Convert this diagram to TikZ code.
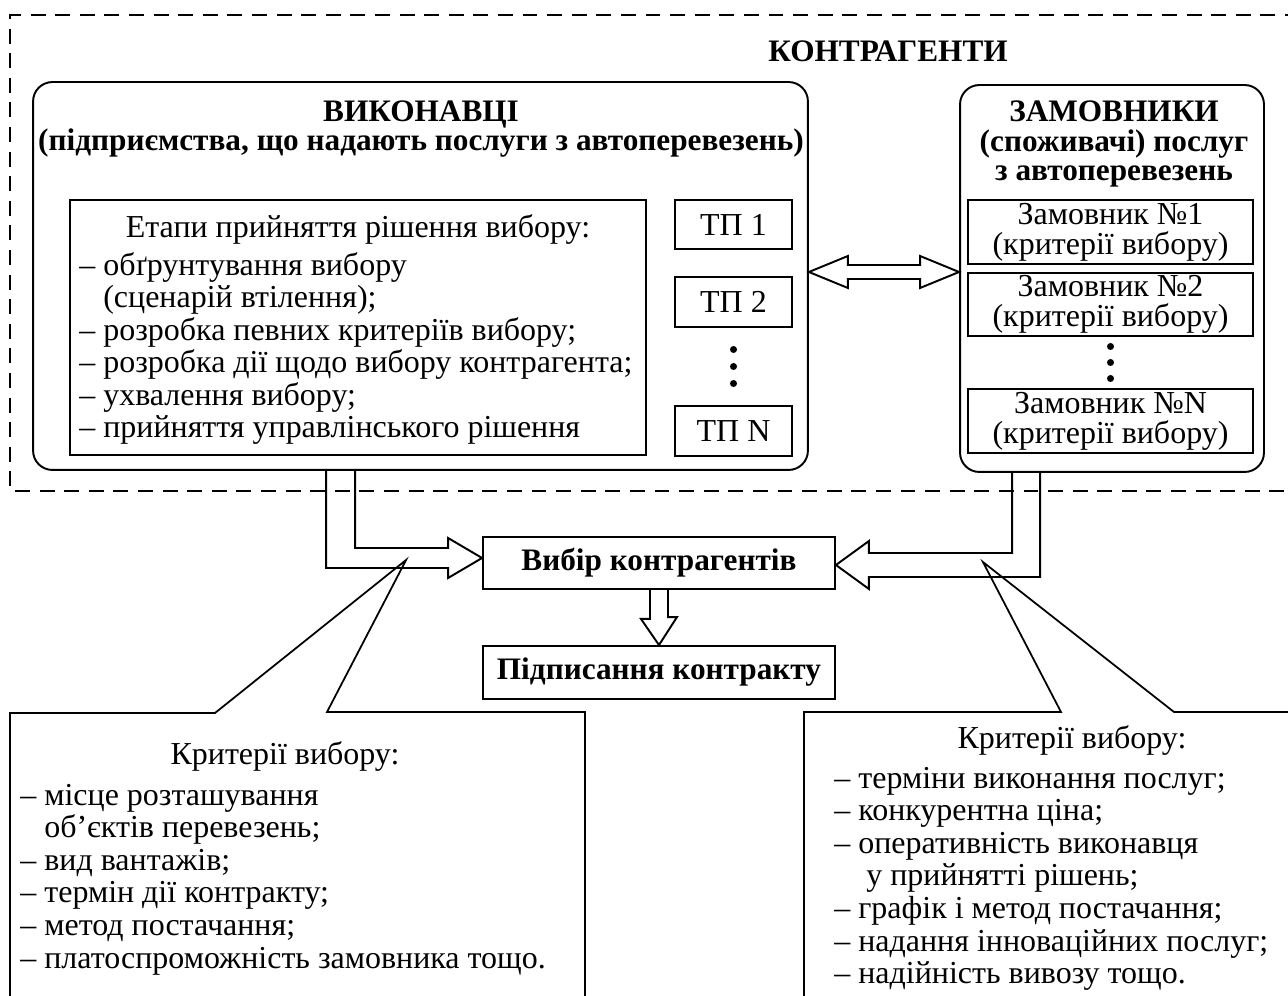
\documentclass[tikz,border=0pt]{standalone}
\usepackage{fontspec}
\setmainfont{Liberation Serif}
\usetikzlibrary{positioning, calc}

\begin{document}
\begin{tikzpicture}[
    x=0.02cm, y=-0.02cm,
    font=\fontsize{18.2}{18.5}\selectfont,
    outer/.style={dash pattern=on 8.5pt off 5.5pt, line width=1.1pt},
    group/.style={rectangle, draw, line width=1.1pt, rounded corners=11pt,
                  inner sep=0pt},
    box/.style={rectangle, draw, line width=1.1pt, inner sep=0pt,
                align=center, font=\fontsize{18.2}{17}\selectfont},
    hdr/.style={inner sep=0pt, align=center,
                font=\fontsize{17.8}{17}\selectfont\bfseries},
    txt/.style={inner sep=0pt, align=left},
    blk/.style={line width=1.1pt, line join=miter},
    clt/.style={line width=1pt},
]
\useasboundingbox (0,0) rectangle (1288,996);

% Contractors frame
\draw[outer] (1300,15) -- (10,15) -- (10,491) -- (1300,491);
\node[hdr, anchor=base] (kontr) at (888,62) {КОНТРАГЕНТИ};

% Executors
\node[group, minimum width=15.5cm, minimum height=7.76cm] (vyk) at (420.5,276) {};
\node[hdr, anchor=base] (vykhead) at (421,151)
     {ВИКОНАВЦІ\\(підприємства, що надають послуги з автоперевезень)};

\node[box, minimum width=11.52cm, minimum height=5.1cm] (etapy) at (358,327.5) {};
\node[anchor=base, inner sep=0pt] (etapyhead) at (358,238) {Етапи прийняття рішення вибору:};
\node[txt, anchor=base west] (etapylist) at (79,438)
     {– обґрунтування вибору\\\phantom{– }(сценарій втілення);\\– розробка певних критеріїв вибору;\\– розробка дії щодо вибору контрагента;\\– ухвалення вибору;\\– прийняття управлінського рішення};

\node[box, minimum width=2.34cm, minimum height=0.98cm] (tp1) at (733.5,224.5) {ТП 1};
\node[box, minimum width=2.34cm, minimum height=1cm]    (tp2) at (733.5,302)   {ТП 2};
\node[box, minimum width=2.34cm, minimum height=1cm]    (tpn) at (733.5,431)   {ТП N};
\foreach \d in {-17,0,17}
  \fill ($(tp2.south)!0.5!(tpn.north)+(0,\d)$) circle (2pt);

% Customers
\node[group, minimum width=6.08cm, minimum height=7.74cm] (zam) at (1112,278.5) {};
\node[hdr, anchor=base] (zamhead) at (1114,181)
     {ЗАМОВНИКИ\\(споживачі) послуг\\з автоперевезень};

\node[box, minimum width=5.7cm, minimum height=1.28cm] (zm1) at (1110.5,232)   {Замовник №1\\(критерії вибору)};
\node[box, minimum width=5.7cm, minimum height=1.26cm] (zm2) at (1110.5,304.5) {Замовник №2\\(критерії вибору)};
\node[box, minimum width=5.7cm, minimum height=1.28cm] (zmn) at (1110.5,421)   {Замовник №N\\(критерії вибору)};
\foreach \d in {-16,0,16}
  \fill ($(zm2.south)!0.5!(zmn.north)+(0,\d)$) circle (2pt);

% two-way arrow
\coordinate (dl) at ($(vyk.east)+(0,-4)$);
\coordinate (dr) at (zam.west |- dl);
\draw[blk] (dl) -- ++(39,-16) -- ++(0,9) -- ($(dr)+(-39,-7)$) -- ++(0,-9) -- (dr)
      -- ++(-39,16) -- ++(0,-9) -- ($(dl)+(39,7)$) -- ++(0,9) -- cycle;

% Choice and contract
\node[box, font=\fontsize{17.8}{17}\selectfont\bfseries,
      minimum width=7.04cm, minimum height=1.04cm] (vyb) at (659,563) {Вибір контрагентів};
\node[box, font=\fontsize{17.8}{17}\selectfont\bfseries,
      minimum width=7.04cm, minimum height=1.06cm] (pid) at (659,672.5) {Підписання контракту};

\coordinate (la) at ($(vyk.south west)+(294,0)$);
\coordinate (tl) at ($(vyb.west)+(0,-5)$);
\draw[blk] (la) |- ($(tl)+(-34,10)$) -- ++(0,10) -- (tl) -- ++(-34,-20) -- ++(0,10)
      -- ($(la |- tl)+(29,-10)$) -- ($(la)+(29,0)$);

\coordinate (ra) at ($(zam.south west)+(53,0)$);
\coordinate (tr) at ($(vyb.east)+(0,2)$);
\draw[blk] (ra) |- ($(tr)+(33,-12)$) -- ++(0,-12) -- (tr) -- ++(33,24) -- ++(0,-12)
      -- ($(ra |- tr)+(28,12)$) -- ($(ra)+(28,0)$);

\draw[blk] ($(vyb.south)+(-9,0)$) -- ++(0,29) -- ++(-9,0) -- (pid.north)
      -- ++(18,-28) -- ++(-9,0) -- ($(vyb.south)+(9,0)$);

% Criteria callouts
\coordinate (ptl) at ($(vyb.west)+(-76,-3)$);
\draw[clt] (10,1000) -- (10,713) -- (215,713) -- (ptl) -- (327,712) -- (585,712) -- (585,1000);
\node[anchor=base, inner sep=0pt] (krlhead) at (285,764) {Критерії вибору:};
\node[txt, anchor=base west] (krl) at (20,968)
     {– місце розташування\\\phantom{– }об’єктів перевезень;\\– вид вантажів;\\– термін дії контракту;\\– метод постачання;\\– платоспроможність замовника тощо.};

\coordinate (ptr) at ($(vyb.east)+(147,-1)$);
\draw[clt] (804,1000) -- (804,712) -- (1061,712) -- (ptr) -- (1174,712) -- (1300,712);
\node[anchor=base, inner sep=0pt] (krrhead) at (1072,748) {Критерії вибору:};
\node[txt, anchor=base west] (krr) at (834,983.5)
     {– терміни виконання послуг;\\– конкурентна ціна;\\– оперативність виконавця\\\phantom{– } у прийнятті рішень;\\– графік і метод постачання;\\– надання інноваційних послуг;\\– надійність вивозу тощо.};

\end{tikzpicture}
\end{document}
